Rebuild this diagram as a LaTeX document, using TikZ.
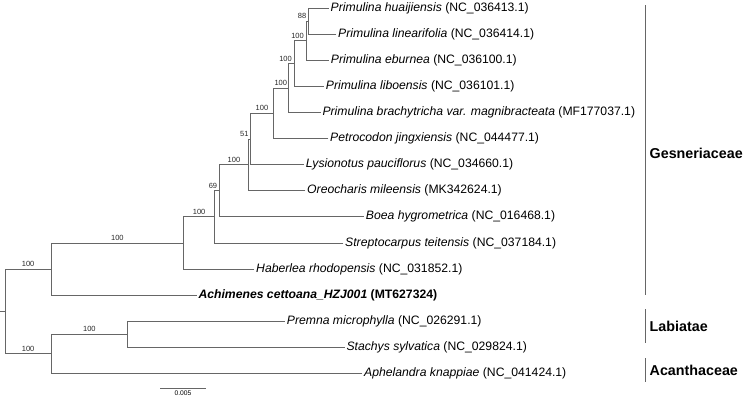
\documentclass[tikz,border=0pt]{standalone}
\usepackage{fontspec}
\setmainfont{Liberation Sans}

\begin{document}
\begin{tikzpicture}[x=1pt,y=-1pt,
    branch/.style={draw=black!60, line width=0.8pt, line cap=rect},
    leaf/.style={anchor=west, inner sep=2pt, text height=8.8pt, text depth=2.6pt,
                 font=\fontsize{12.2}{14}\selectfont},
    boot/.style={inner sep=1.8pt, text=black!85, font=\fontsize{7.5}{9}\selectfont},
    fam/.style={anchor=base west, inner sep=0pt, font=\fontsize{14.3}{16}\selectfont\bfseries}]
    \useasboundingbox (0,0) rectangle (745,399);

    % inner nodes of the tree
    \coordinate (r0) at (0, 311.42);
    \coordinate (r) at (5.3, 311.42);

    \coordinate (n11) at (51, 269.01);
    \coordinate (n10) at (183.7, 242.93);
    \coordinate (n9) at (214.5, 216.85);
    \coordinate (n8) at (219.3, 190.8);
    \coordinate (n7) at (248.7, 164.8);
    \coordinate (n6) at (250.7, 138.91);
    \coordinate (n5) at (273.3, 113.22);
    \coordinate (n4) at (288.3, 87.93);
    \coordinate (n3) at (294, 63.46);
    \coordinate (n2) at (306, 40.63);
    \coordinate (n1) at (308.5, 21.05);

    \coordinate (n13) at (51, 353.83);
    \coordinate (n12) at (127.7, 334.25);

    % tips
    \node[leaf] (l1) at (328.5, 8) {\textit{Primulina huaijiensis} (NC\_036413.1)};
    \node[leaf] (l2) at (336, 34.1) {\textit{Primulina linearifolia} (NC\_036414.1)};
    \node[leaf] (l3) at (328.7, 60.2) {\textit{Primulina eburnea} (NC\_036100.1)};
    \node[leaf] (l4) at (323.7, 86.3) {\textit{Primulina liboensis} (NC\_036101.1)};
    \node[leaf] (l5) at (320.3, 112.4) {\textit{Primulina brachytricha var. magnibracteata} (MF177037.1)};
    \node[leaf] (l6) at (328, 138.5) {\textit{Petrocodon jingxiensis} (NC\_044477.1)};
    \node[leaf] (l7) at (303.7, 164.6) {\textit{Lysionotus pauciflorus} (NC\_034660.1)};
    \node[leaf] (l8) at (305, 190.7) {\textit{Oreocharis mileensis} (MK342624.1)};
    \node[leaf] (l9) at (363.7, 216.8) {\textit{Boea hygrometrica} (NC\_016468.1)};
    \node[leaf] (l10) at (343, 242.9) {\textit{Streptocarpus teitensis} (NC\_037184.1)};
    \node[leaf] (l11) at (254, 269) {\textit{Haberlea rhodopensis} (NC\_031852.1)};
    \node[leaf] (l12) at (196.3, 295.1) {\bfseries\textit{Achimenes cettoana\_HZJ001} (MT627324)};
    \node[leaf] (l13) at (284.7, 321.2) {\textit{Premna microphylla} (NC\_026291.1)};
    \node[leaf] (l14) at (344.3, 347.3) {\textit{Stachys sylvatica} (NC\_029824.1)};
    \node[leaf] (l15) at (362, 373.4) {\textit{Aphelandra knappiae} (NC\_041424.1)};

    % branches
    \draw[branch] (r0) -- (r);
    \draw[branch] (r) |- (n11) node[boot, pos=0.75, above] {100};
    \draw[branch] (r) |- (n13) node[boot, pos=0.75, above] {100};

    \draw[branch] (n11) |- (n10) node[boot, pos=0.75, above] {100};
    \draw[branch] (n11) |- (l12.west);
    \draw[branch] (n10) |- (n9) node[boot, pos=0.75, above] {100};
    \draw[branch] (n10) |- (l11.west);
    \draw[branch] (n9) |- (n8) node[boot, at end, anchor=south east] {69};
    \draw[branch] (n9) |- (l10.west);
    \draw[branch] (n8) |- (n7) node[boot, pos=0.75, above] {100};
    \draw[branch] (n8) |- (l9.west);
    \draw[branch] (n7) |- (n6) node[boot, at end, anchor=south east] {51};
    \draw[branch] (n7) |- (l8.west);
    \draw[branch] (n6) |- (n5) node[boot, pos=0.75, above] {100};
    \draw[branch] (n6) |- (l7.west);
    \draw[branch] (n5) |- (n4) node[boot, pos=0.75, above] {100};
    \draw[branch] (n5) |- (l6.west);
    \draw[branch] (n4) |- (n3) node[boot, at end, anchor=south east] {100};
    \draw[branch] (n4) |- (l5.west);
    \draw[branch] (n3) |- (n2) node[boot, at end, anchor=south east] {100};
    \draw[branch] (n3) |- (l4.west);
    \draw[branch] (n2) |- (n1) node[boot, at end, anchor=south east] {88};
    \draw[branch] (n2) |- (l3.west);
    \draw[branch] (n1) |- (l1.west);
    \draw[branch] (n1) |- (l2.west);

    \draw[branch] (n13) |- (n12) node[boot, pos=0.75, above] {100};
    \draw[branch] (n13) |- (l15.west);
    \draw[branch] (n12) |- (l13.west);
    \draw[branch] (n12) |- (l14.west);

    % families
    \coordinate (g1) at (645.7, 5);
    \coordinate (g2) at (645.7, 295);
    \coordinate (b1) at (645.7, 309.3);
    \coordinate (b2) at (645.7, 343.3);
    \coordinate (c1) at (645.7, 358.3);
    \coordinate (c2) at (645.7, 381.7);
    \draw[branch, line cap=butt] (g1) -- (g2);
    \draw[branch, line cap=butt] (b1) -- (b2);
    \draw[branch, line cap=butt] (c1) -- (c2);
    \node[fam] (gesn) at (649.5, 158.5) {Gesneriaceae};
    \node[fam] (labi) at (649.5, 331.2) {Labiatae};
    \node[fam] (acan) at (649.5, 375.6) {Acanthaceae};

    % scale bar
    \coordinate (s1) at (160, 388);
    \coordinate (s2) at (206, 388);
    \draw[branch, line cap=butt] (s1) -- (s2)
        node[midway, below, inner sep=2pt, font=\fontsize{6.7}{8}\selectfont] (scl) {0.005};
\end{tikzpicture}
\end{document}
